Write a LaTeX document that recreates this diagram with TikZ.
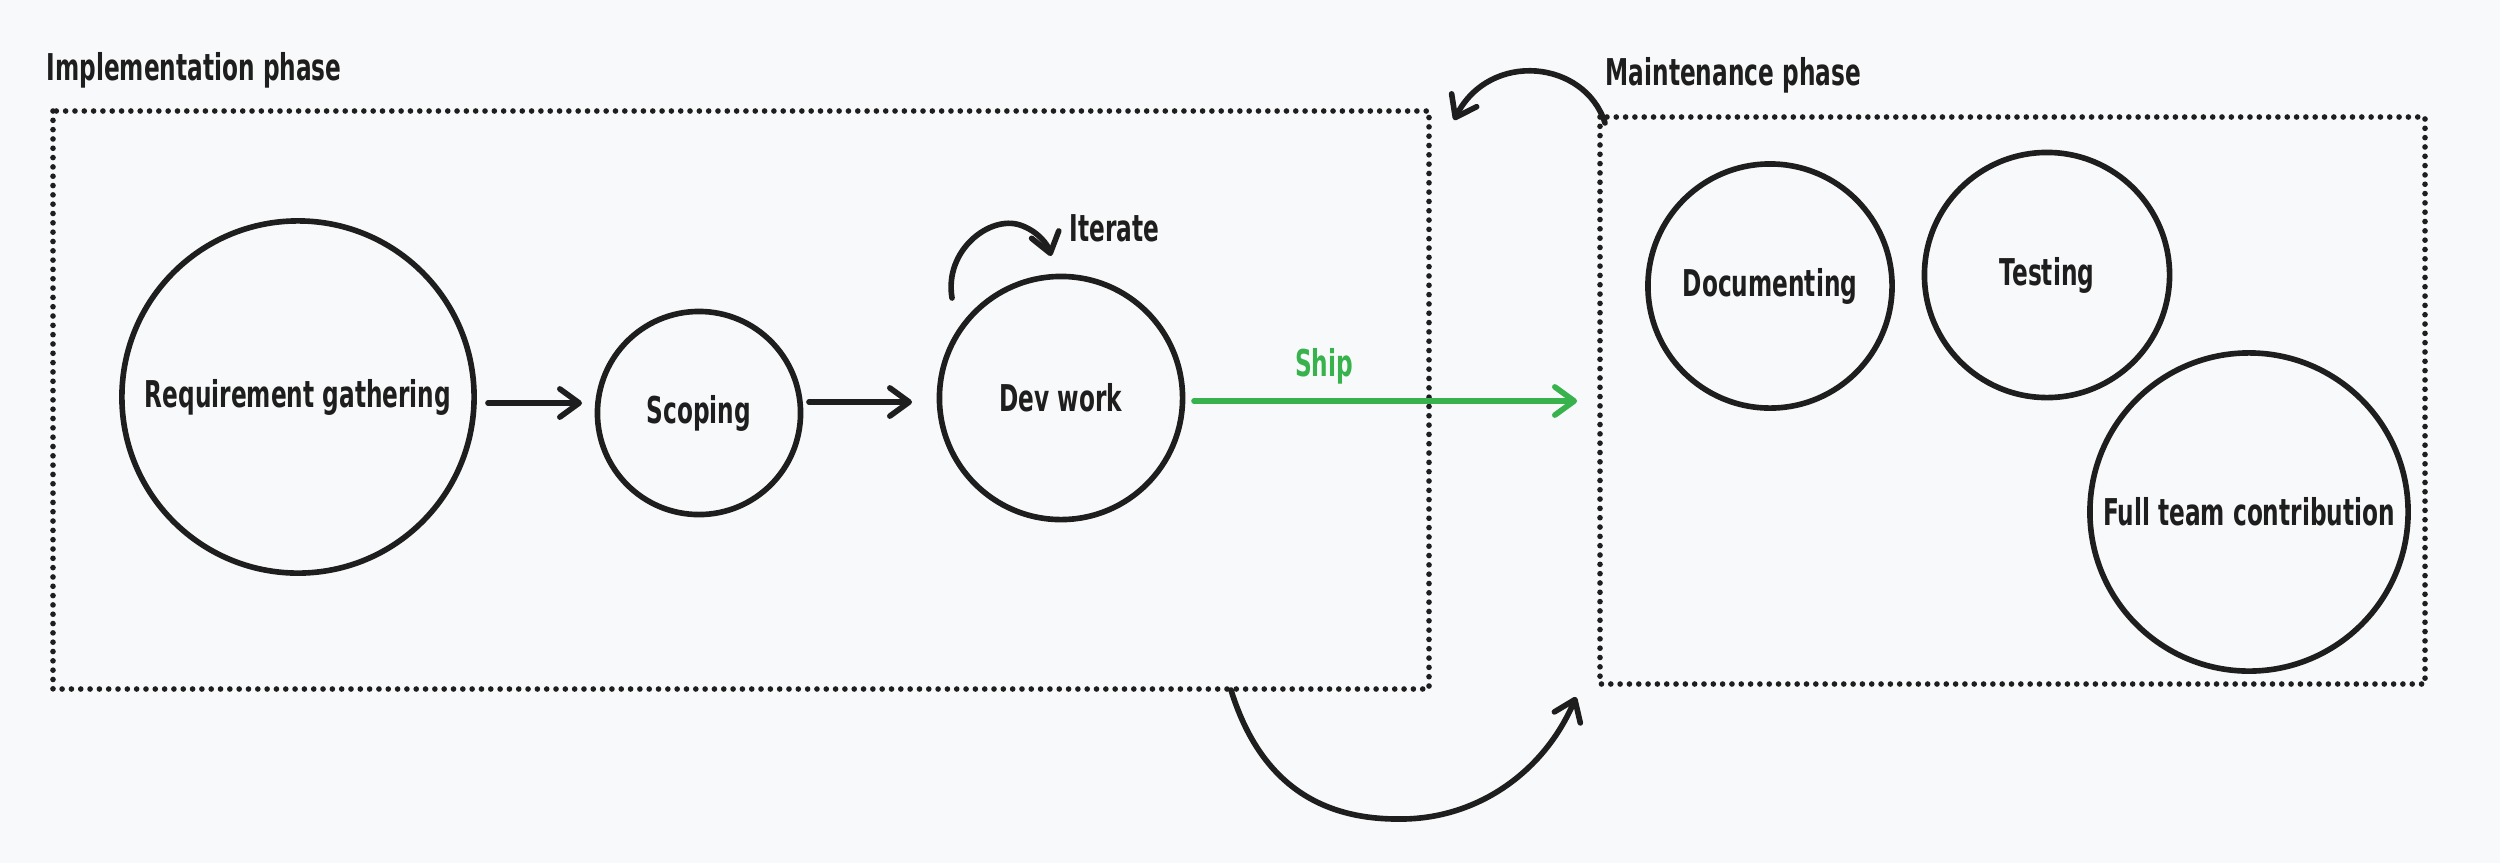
\documentclass[tikz,border=0pt]{standalone}
\usepackage{fontspec}
\setmainfont{DejaVu Sans Condensed}[BoldFont={DejaVu Sans Condensed Bold},FakeStretch=0.70]
\usetikzlibrary{arrows.meta}
\definecolor{bg}{HTML}{F8F9FA}
\definecolor{ink}{HTML}{1E1E1E}
\definecolor{shipgreen}{RGB}{55,178,77}
\tikzset{
  stage/.style={circle,draw=ink,line width=1.6pt,inner sep=0pt,font=\bfseries\fontsize{10.5}{12}\selectfont,text=ink},
  phasebox/.style={draw=ink,line width=1.6pt,line cap=round,dash pattern=on 0pt off 2.65pt},
  lbl/.style={font=\bfseries\fontsize{10.5}{12}\selectfont,text=ink,inner sep=0pt},
  flow/.style={draw=ink,line width=1.6pt,line cap=round,-{Straight Barb[length=5.5pt,width=8pt,line width=1.6pt,round]}},
}
\begin{document}
\begin{tikzpicture}[x=0.01cm,y=-0.01cm]
\fill[bg] (0,0) rectangle (2500,863);
\useasboundingbox (0,0) rectangle (2500,863);

% phase boxes
\draw[phasebox] (53,111) rectangle (1429,689);
\draw[phasebox] (1600,117) rectangle (2425,684);
\node[lbl,anchor=west] (implab) at (46,70) {Implementation phase};
\node[lbl,anchor=west] (mainlab) at (1605,75) {Maintenance phase};

% stages
\node[stage,minimum size=3.52cm] (req) at (298,397) {Requirement gathering};
\node[stage,minimum size=2.03cm] (scope) at (699,413) {Scoping};
\node[stage,minimum size=2.43cm] (dev) at (1061,398) {Dev work};
\node[stage,minimum size=2.44cm] (doc) at (1770,286) {Documenting};
\node[stage,minimum size=2.45cm] (test) at (2047,275) {Testing};
\node[stage,minimum size=3.18cm] (full) at (2249,512) {Full team contribution};

% flow arrows
\coordinate (a1s) at (488,403); \coordinate (a1e) at (582,403);
\coordinate (a2s) at (809,402); \coordinate (a2e) at (912,402);
\draw[flow] (a1s) -- (a1e);
\draw[flow] (a2s) -- (a2e);

% ship
\coordinate (shipstart) at (1194,401);
\coordinate (shipend) at (1577,401);
\draw[flow,draw=shipgreen] (shipstart) -- (shipend);
\node[lbl,text=shipgreen] (ship) at (1324,366) {Ship};

% iterate loop
\coordinate (its) at (952,298);
\coordinate (ite) at (1051,256);
\draw[flow] (its) .. controls (944,250) and (990,215) .. (1020,225) .. controls (1038,231) and (1048,245) .. (ite);
\node[lbl,anchor=west] (iter) at (1069,228) {Iterate};

% top arc (maintenance back to implementation)
\coordinate (tas) at (1605,123);
\coordinate (tae) at (1454,120);
\draw[flow] (tas) .. controls (1585,60) and (1490,50) .. (tae);

% bottom arc (implementation to maintenance)
\coordinate (bas) at (1231,690);
\coordinate (bae) at (1576,697);
\draw[flow] (bas) .. controls (1265,800) and (1340,820) .. (1403,819) .. controls (1480,818) and (1545,770) .. (bae);
\end{tikzpicture}
\end{document}
